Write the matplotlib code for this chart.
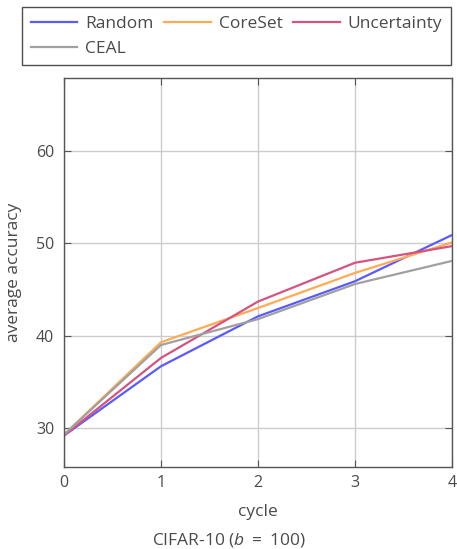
import matplotlib

matplotlib.use("Agg")
import matplotlib.pyplot as plt

cycles = [0, 1, 2, 3, 4]
random_acc = [29.2, 36.7, 42.1, 45.9, 50.9]
coreset_acc = [29.3, 39.3, 43.0, 46.8, 50.1]
uncertainty_acc = [29.2, 37.6, 43.7, 47.9, 49.7]
ceal_acc = [29.3, 39.0, 41.8, 45.6, 48.1]

series = [
    ("Random", random_acc, "#5a5aff"),
    ("CoreSet", coreset_acc, "#ffaa55"),
    ("Uncertainty", uncertainty_acc, "#d4547f"),
    ("CEAL", ceal_acc, "#a0a0a0"),
]

txt = "#4a4a4a"
plt.rcParams["font.family"] = ["Open Sans", "DejaVu Sans"]
plt.rcParams["mathtext.fontset"] = "custom"
plt.rcParams["mathtext.it"] = "Open Sans:italic"
plt.rcParams["mathtext.rm"] = "Open Sans"

fig = plt.figure(figsize=(4.57, 5.49), dpi=100)
ax = fig.add_axes([0.140, 0.1494, 0.849, 0.7086])

handles = {}
for name, vals, col in series:
    handles[name], = ax.plot(cycles, vals, color=col, lw=1.6, label=name)

ax.set_xlim(0, 4)
ax.set_ylim(25.8, 67.9)
ax.set_xticks(cycles)
ax.set_yticks([30, 40, 50, 60])
ax.grid(color="#cccccc", lw=1)
ax.tick_params(direction="in", length=5, colors="#555555", labelcolor=txt,
               labelsize=11.5, top=True, right=True)
ax.tick_params(axis="x", pad=6)
ax.tick_params(axis="y", pad=7)
for s in ax.spines.values():
    s.set_color("#555555")
    s.set_linewidth(1.0)

ax.set_xlabel("cycle", color=txt, fontsize=12.5, labelpad=9)
ax.set_ylabel("average accuracy", color=txt, fontsize=12.5, labelpad=10)
fig.text(0.5, 0.008, r"CIFAR-10 ($b\ =\ $100)", ha="center", color=txt,
         fontsize=12.5)

# legend fills column-wise, reorder so it reads row-wise like the original
order = ["Random", "CEAL", "CoreSet", "Uncertainty"]
leg = fig.legend([handles[n] for n in order], order,
                 loc="upper left", bbox_to_anchor=(0.048, 0.987),
                 ncol=3, frameon=True, fancybox=False,
                 fontsize=12.5, handlelength=2.7, borderaxespad=0,
                 borderpad=0.5, labelcolor=txt, columnspacing=0.6,
                 handletextpad=0.45)
leg.get_frame().set_edgecolor("#222222")
leg.get_frame().set_linewidth(1.0)

fig.savefig("out.png", dpi=100)
